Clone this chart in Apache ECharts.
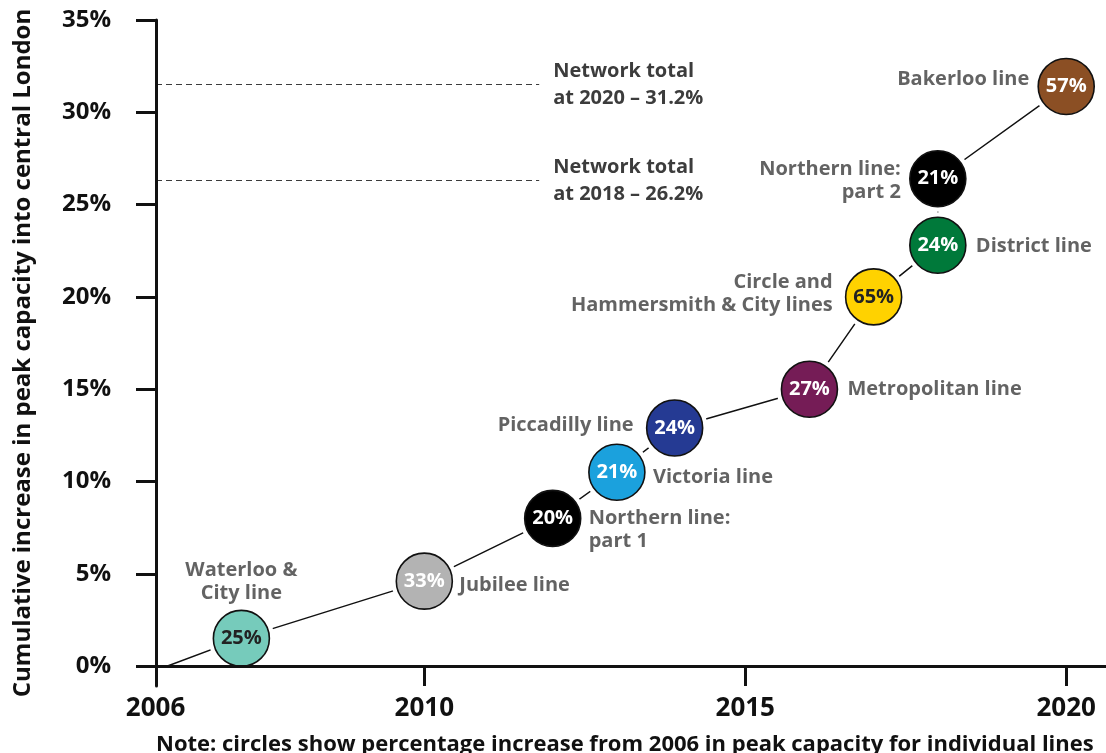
<!DOCTYPE html>
<html>
<head>
<meta charset="utf-8">
<script src="https://cdn.jsdelivr.net/npm/echarts@6/dist/echarts.min.js"></script>
<style>
  html, body { margin: 0; padding: 0; background: #fff; }
  #chart { width: 1106px; height: 753px; }
</style>
</head>
<body>
<div id="chart"></div>
<script>
// tube lines, in the order the cumulative line passes through them
const tubeLines = [
  "Waterloo &\nCity line",
  "Jubilee line",
  "Northern line:\npart 1",
  "Victoria line",
  "Piccadilly line",
  "Metropolitan line",
  "Circle and\nHammersmith & City lines",
  "District line",
  "Northern line:\npart 2",
  "Bakerloo line"
];
const upgradeYear = [2007.15, 2010, 2012, 2013, 2013.9, 2016, 2017, 2018, 2018, 2020];
// cumulative network increase (%) after each upgrade
const cumulativeIncrease = [1.5, 4.6, 8.0, 10.5, 12.9, 15.0, 20.0, 22.8, 26.4, 31.4];
// increase (%) for the individual line
const lineIncrease = [25, 33, 20, 21, 24, 27, 65, 24, 21, 57];
const startPoint = [2006, 0];

const networkTotalLevel = [31.5, 26.3];
const networkTotalText = ["Network total\nat 2020 – 31.2%", "Network total\nat 2018 – 26.2%"];

const xTickLabels = [2006, 2010, 2015, 2020];
const yTickLabels = [0, 5, 10, 15, 20, 25, 30, 35];

const FONT = "Open Sans";
const GREY = "#3c3c3c";

const lineColours = ["#76cbbb", "#b3b3b3", "#000000", "#1ba1dd", "#253a93",
  "#751c56", "#ffd200", "#00793a", "#000000", "#8b4f24"];
const darkText = { 0: true, 6: true };

// where each annotation sits relative to its circle
const annotPlace = [
  { position: "top", distance: 6 },
  { position: "right", distance: 7, offset: [0, 4] },
  { position: "right", distance: 8, offset: [0, 11] },
  { position: "right", distance: 8, offset: [0, 5] },
  { position: "left", distance: 13, offset: [0, -3] },
  { position: "right", distance: 10 },
  { position: "left", distance: 13, offset: [0, -3] },
  { position: "right", distance: 10, offset: [0, 1] },
  { position: "left", distance: 9, offset: [0, 2] },
  { position: "left", distance: 9, offset: [0, -7] }
];

const X_MIN = 2005.82;
const X_MAX = 2020.62;
const DASH_END = 2011.79;

const points = upgradeYear.map((y, i) => [y, cumulativeIncrease[i]]);

const chart = echarts.init(document.getElementById("chart"));

chart.setOption({
  animation: false,
  title: {
    text: "Note: circles show percentage increase from 2006 in peak capacity for individual lines",
    left: 151,
    top: 729,
    textStyle: { fontFamily: FONT, fontWeight: "bold", fontSize: 22, color: "#111" }
  },
  grid: { left: 156, right: 0, top: 20, bottom: 67 },
  xAxis: {
    type: "value",
    min: X_MIN,
    max: X_MAX,
    z: 5,
    splitLine: { show: false },
    axisLine: { onZero: true, lineStyle: { color: "#111", width: 3 } },
    axisTick: { customValues: [2010, 2015, 2020], length: 20, lineStyle: { color: "#111", width: 3 } },
    axisLabel: {
      customValues: xTickLabels,
      margin: 10,
      fontFamily: FONT,
      fontWeight: "bold",
      fontSize: 26,
      color: "#111",
      formatter: v => (v === 2006 ? "{first|2006}" : String(v)),
      rich: {
        first: { fontFamily: FONT, fontWeight: "bold", fontSize: 26, color: "#111", padding: [0, 24, 0, 0] }
      }
    }
  },
  yAxis: {
    type: "value",
    min: -1.08,
    max: 35,
    z: 5,
    name: "Cumulative increase in peak capacity into central London",
    nameLocation: "middle",
    nameGap: 121,
    nameTextStyle: { fontFamily: FONT, fontWeight: "bold", fontSize: 24, color: "#111" },
    splitLine: { show: false },
    axisLine: { show: true, onZero: false, lineStyle: { color: "#111", width: 3 } },
    axisTick: { customValues: yTickLabels, length: 20, lineStyle: { color: "#111", width: 3 } },
    axisLabel: {
      customValues: yTickLabels,
      margin: 45,
      fontFamily: FONT,
      fontWeight: "bold",
      fontSize: 24,
      color: "#111",
      formatter: v => v + "%"
    }
  },
  series: [
    {
      // connecting line
      type: "line",
      z: 1,
      data: [startPoint].concat(points),
      symbol: "none",
      lineStyle: { color: "#111", width: 1.5 },
      markLine: {
        silent: true,
        symbol: "none",
        lineStyle: { color: GREY, width: 1, type: [6, 4] },
        label: {
          position: "end",
          distance: 14,
          fontFamily: FONT,
          fontWeight: "bold",
          fontSize: 20,
          lineHeight: 27,
          color: GREY,
          align: "left"
        },
        data: networkTotalLevel.map((v, i) => [
          { coord: [X_MIN, v] },
          { coord: [DASH_END, v], label: { formatter: networkTotalText[i] } }
        ])
      }
    },
    {
      // white halo to leave a gap in the line around each circle
      type: "scatter",
      z: 2,
      data: points,
      symbolSize: 66,
      itemStyle: { color: "#fff", opacity: 1 },
      silent: true
    },
    {
      type: "scatter",
      z: 3,
      data: points.map((p, i) => ({
        value: p,
        itemStyle: { color: lineColours[i] },
        label: { color: darkText[i] ? "#222" : "#fff" }
      })),
      symbolSize: 56,
      itemStyle: { borderColor: "#111", borderWidth: 1.6, opacity: 1 },
      label: {
        show: true,
        position: "inside",
        fontFamily: FONT,
        fontWeight: "bold",
        fontSize: 20,
        formatter: p => lineIncrease[p.dataIndex] + "%"
      }
    },
    {
      // line names
      type: "scatter",
      z: 4,
      data: points.map((p, i) => ({ value: p, label: annotPlace[i] })),
      symbolSize: 56,
      itemStyle: { color: "rgba(0,0,0,0)" },
      silent: true,
      label: {
        show: true,
        fontFamily: FONT,
        fontWeight: "bold",
        fontSize: 20,
        lineHeight: 23,
        color: GREY,
        formatter: p => tubeLines[p.dataIndex]
      }
    }
  ]
});
</script>
</body>
</html>
